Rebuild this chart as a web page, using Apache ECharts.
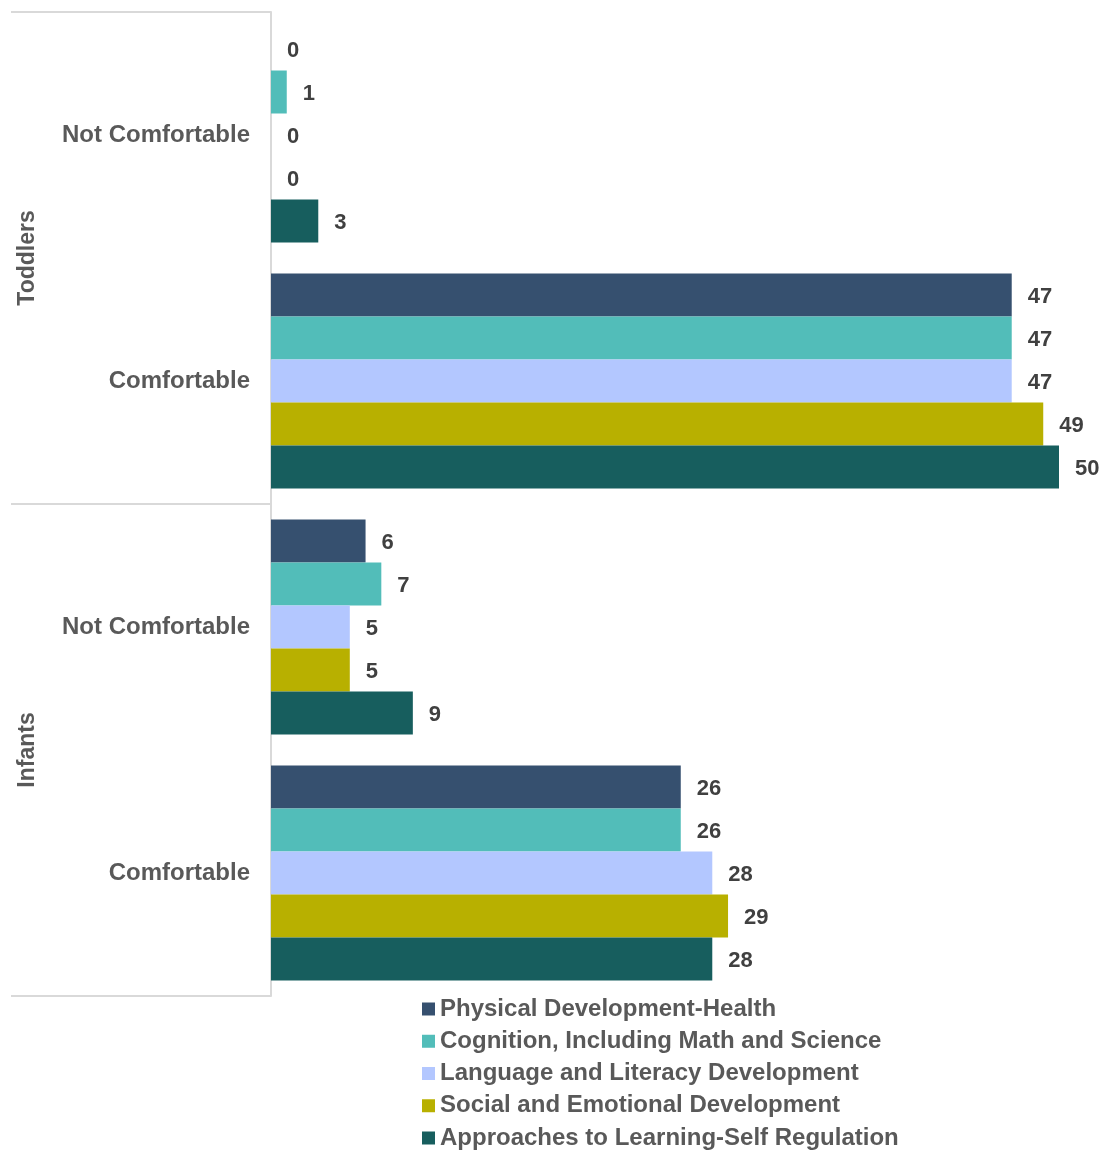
<!DOCTYPE html>
<html>
<head>
<meta charset="utf-8">
<script src="https://cdn.jsdelivr.net/npm/echarts@6/dist/echarts.min.js"></script>
<style>html,body{margin:0;padding:0;background:#fff}#c{width:1104px;height:1152px}</style>
</head>
<body>
<div id="c"></div>
<script>
const groups = ['Toddlers', 'Infants'];
const subCategories = ['Not Comfortable', 'Comfortable', 'Not Comfortable', 'Comfortable'];
const seriesNames = [
  'Physical Development-Health',
  'Cognition, Including Math and Science',
  'Language and Literacy Development',
  'Social and Emotional Development',
  'Approaches to Learning-Self Regulation'
];
const physical   = [0, 47, 6, 26];
const cognition  = [1, 47, 7, 26];
const language   = [0, 47, 5, 28];
const social     = [0, 49, 5, 29];
const approaches = [3, 50, 9, 28];
const colors = ['#36506F', '#52BDB9', '#B3C7FF', '#B8B000', '#175E5E'];

const values = [physical, cognition, language, social, approaches];
const catKeys = subCategories.map((s, i) => i + '|' + s);
const FONT = '"Liberation Sans", Arial, sans-serif';

const chart = echarts.init(document.getElementById('c'), null, {renderer: 'canvas'});
chart.setOption({
  animation: false,
  backgroundColor: '#fff',
  color: colors,
  grid: {left: 271, top: 12, width: 788, height: 984, containLabel: false},
  xAxis: {type: 'value', min: 0, max: 50, show: false},
  yAxis: [
    {
      type: 'category', inverse: true, data: catKeys,
      axisLine: {show: false}, axisTick: {show: false},
      axisLabel: {
        formatter: v => v.split('|')[1], fontFamily: FONT, fontWeight: 'bold',
        fontSize: 24, color: '#595959', margin: 21
      }
    },
    {
      type: 'category', inverse: true, position: 'left', data: groups,
      axisLine: {show: true, lineStyle: {color: '#D9D9D9', width: 2}},
      axisTick: {show: true, length: 260, lineStyle: {color: '#D9D9D9', width: 2}},
      axisLabel: {
        rotate: 90, fontFamily: FONT, fontWeight: 'bold', fontSize: 23,
        color: '#595959', margin: 232
      }
    }
  ],
  legend: {
    orient: 'vertical', left: 422, top: 997, height: 160, padding: 0,
    itemWidth: 13, itemHeight: 13, itemGap: 8.25,
    icon: 'rect',
    textStyle: {fontFamily: FONT, fontWeight: 'bold', fontSize: 24, color: '#595959'},
    data: seriesNames
  },
  series: seriesNames.map((n, i) => ({
    name: n, type: 'bar', yAxisIndex: 0,
    data: values[i],
    barGap: '0%', barCategoryGap: '12.6%',
    itemStyle: {color: colors[i]},
    label: {
      show: true, position: 'right', distance: 16, offset: [0, 2],
      fontFamily: FONT, fontWeight: 'bold', fontSize: 22, color: '#404040'
    }
  }))
});
</script>
</body>
</html>
